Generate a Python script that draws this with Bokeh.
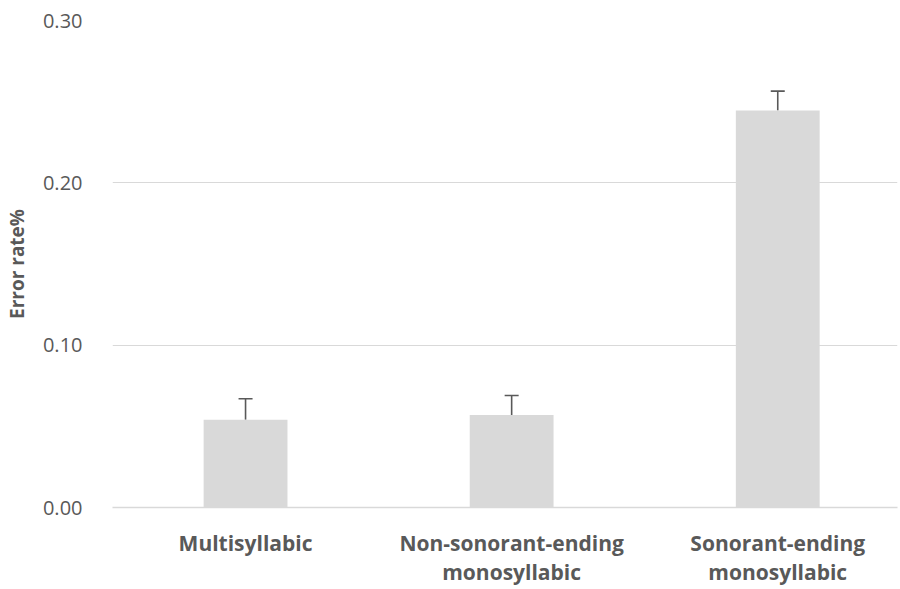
from bokeh.plotting import figure
from bokeh.models import ColumnDataSource, Whisker, TeeHead, FixedTicker, NumeralTickFormatter, Range1d
from bokeh.embed import file_html
from bokeh.resources import INLINE

categories = ["Multisyllabic", "Non-sonorant-ending\nmonosyllabic", "Sonorant-ending\nmonosyllabic"]
error_rate = [0.054, 0.057, 0.2445]
error_plus = [0.013, 0.012, 0.012]
y_ticks = [0.0, 0.1, 0.2, 0.3]

xs = list(range(len(categories)))
src = ColumnDataSource(dict(
    x=xs,
    top=error_rate,
    upper=[v + e for v, e in zip(error_rate, error_plus)],
))

p = figure(width=900, height=589, output_backend="svg", toolbar_location=None,
           x_range=Range1d(-0.5, 2.45), y_range=Range1d(0, 0.30),
           min_border_left=112, min_border_right=3, min_border_top=20, min_border_bottom=81)
p.outline_line_color = None
p.background_fill_color = "white"
p.border_fill_color = "white"

p.vbar(x="x", top="top", width=0.315, source=src, fill_color="#d9d9d9", line_color=None)

w = Whisker(base="x", lower="top", upper="upper", source=src, dimension="height",
            line_color="#595959", line_width=1.6,
            upper_head=TeeHead(size=14, line_color="#595959", line_width=1.6),
            lower_head=None)
p.add_layout(w)

p.xgrid.grid_line_color = None
p.ygrid.grid_line_color = "#d9d9d9"
p.ygrid.grid_line_width = 1
p.ygrid.ticker = FixedTicker(ticks=y_ticks)

p.yaxis.ticker = FixedTicker(ticks=y_ticks)
p.yaxis.formatter = NumeralTickFormatter(format="0.00")
p.yaxis.axis_line_color = None
p.yaxis.major_tick_line_color = None
p.yaxis.minor_tick_line_color = None
p.yaxis.major_label_text_color = "#595959"
p.yaxis.major_label_text_font = "Open Sans"
p.yaxis.major_label_text_font_size = "20px"
p.yaxis.major_label_standoff = 24
p.yaxis.axis_label = "Error rate%"
p.yaxis.axis_label_text_font = "Open Sans"
p.yaxis.axis_label_text_font_style = "bold"
p.yaxis.axis_label_text_font_size = "19px"
p.yaxis.axis_label_text_color = "#595959"
p.yaxis.axis_label_standoff = 10

p.xaxis.ticker = FixedTicker(ticks=xs)
p.xaxis.major_label_overrides = {i: c for i, c in zip(xs, categories)}
p.xaxis.axis_line_color = "#d9d9d9"
p.xaxis.axis_line_width = 1.5
p.xaxis.major_tick_line_color = None
p.xaxis.minor_tick_line_color = None
p.xaxis.major_label_text_color = "#595959"
p.xaxis.major_label_text_font = "Open Sans"
p.xaxis.major_label_text_font_style = "bold"
p.xaxis.major_label_text_font_size = "21px"
p.xaxis.major_label_text_line_height = 1.07
p.xaxis.major_label_standoff = 15

open("out.html", "w").write(file_html(p, INLINE))
